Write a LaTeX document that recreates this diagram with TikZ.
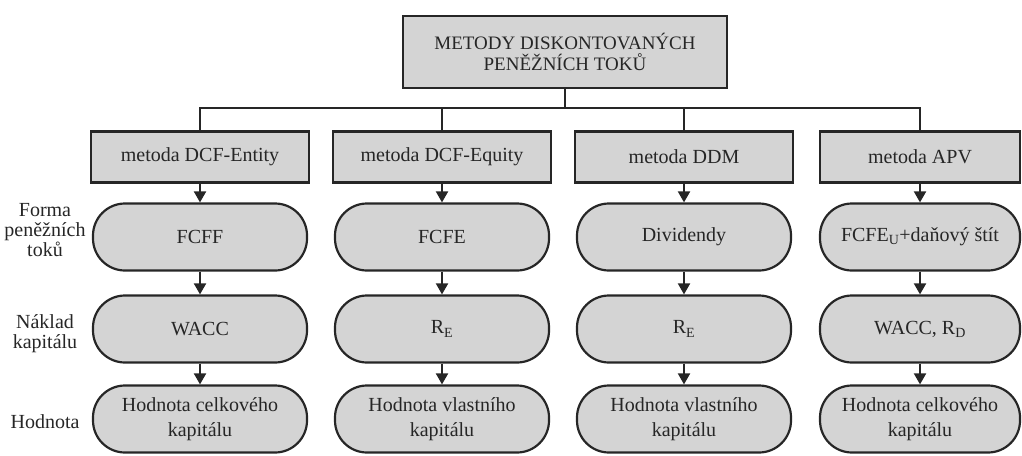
\documentclass[tikz,border=0pt]{standalone}
\usepackage{fontspec}
\setmainfont{Liberation Serif}
\usetikzlibrary{arrows.meta}
\begin{document}
\begin{tikzpicture}[x=1pt,y=-1pt,
  ink/.style={draw=black!85, line width=2.2pt},
  titlebox/.style={ink, fill=black!17, minimum width=324pt, minimum height=72pt,
    align=center, text=black!85, font=\fontsize{19}{21}\selectfont},
  methodbox/.style={ink, fill=black!17, minimum width=218pt, minimum height=51pt,
    text=black!85, font=\fontsize{20}{24}\selectfont},
  pill/.style={ink, fill=black!17, rounded corners=32pt, minimum width=214pt,
    minimum height=67pt, align=center, text=black!85, font=\fontsize{20}{25}\selectfont},
  rowlabel/.style={align=center, text=black!85, font=\fontsize{20}{20}\selectfont},
  link/.style={draw=black!85, line width=2pt},
  flow/.style={link, -{Triangle[width=12pt,length=11pt]}},
]
\useasboundingbox (0,0) rectangle (1022,455);

% heading
\node[titlebox] (top) at (565,52) {METODY DISKONTOVANÝCH\\PENĚŽNÍCH TOKŮ};

% the four methods
\node[methodbox] (m1) at (200,157) {metoda DCF-Entity};
\node[methodbox] (m2) at (442,157) {metoda DCF-Equity};
\node[methodbox] (m3) at (684,157) {metoda DDM};
\node[methodbox, minimum width=200pt] (m4) at (920,157) {metoda APV};

% cash flow form
\node[pill] (a1) at (200,237) {FCFF};
\node[pill] (a2) at (442,237) {FCFE};
\node[pill] (a3) at (684,237) {Dividendy};
\node[pill, minimum width=200pt] (a4) at (920,237) {FCFE\textsubscript{U}+daňový štít};

% cost of capital
\node[pill] (b1) at (200,329) {WACC};
\node[pill] (b2) at (442,329) {R\textsubscript{E}};
\node[pill] (b3) at (684,329) {R\textsubscript{E}};
\node[pill, minimum width=200pt] (b4) at (920,329) {WACC, R\textsubscript{D}};

% value
\node[pill] (c1) at (200,419) {Hodnota celkového\\kapitálu};
\node[pill] (c2) at (442,419) {Hodnota vlastního\\kapitálu};
\node[pill] (c3) at (684,419) {Hodnota vlastního\\kapitálu};
\node[pill, minimum width=200pt] (c4) at (920,419) {Hodnota celkového\\kapitálu};

% row labels
\node[rowlabel] (l1) at (45,230) {Forma\\peněžních\\toků};
\node[rowlabel] (l2) at (45,334) {Náklad\\kapitálu};
\node[rowlabel] (l3) at (45,422) {Hodnota};

% branching bus
\coordinate (bus) at (565,108);
\draw[link] (top.south) -- (bus);
\draw[link] (m1.north) |- (bus) -| (m4.north);
\draw[link] (m2.north) -- (m2.north |- bus);
\draw[link] (m3.north) -- (m3.north |- bus);

% vertical flows
\foreach \c in {1,2,3,4}{
  \draw[flow] (m\c) -- (a\c);
  \draw[flow] (a\c) -- (b\c);
  \draw[flow] (b\c) -- (c\c);
}
\end{tikzpicture}
\end{document}
